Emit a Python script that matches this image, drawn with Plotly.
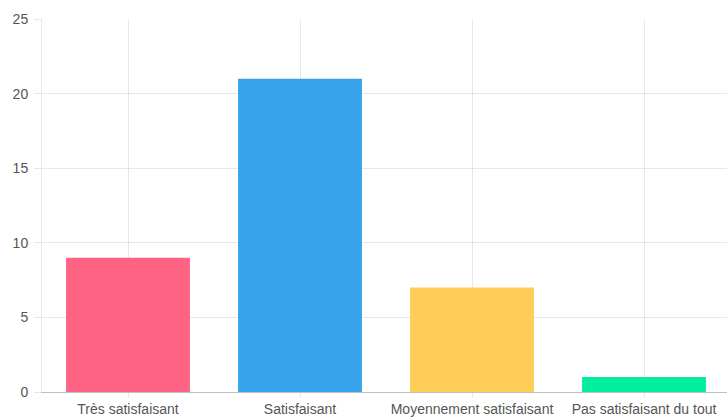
import plotly.graph_objects as go

categories = ["Très satisfaisant", "Satisfaisant", "Moyennement satisfaisant", "Pas satisfaisant du tout"]
values = [9, 21, 7, 1]
colors = ["rgb(255,99,132)", "rgb(54,162,235)", "rgb(255,205,86)", "rgb(0,238,160)"]
y_ticks = [0, 5, 10, 15, 20, 25]

fig = go.Figure(go.Bar(x=categories, y=values, marker=dict(color=colors, line=dict(width=0)), width=0.72))

grid = "rgba(0,0,0,0.09)"
fig.update_layout(
    width=727, height=418,
    margin=dict(l=42, r=0, t=19, b=26),
    paper_bgcolor="white", plot_bgcolor="white",
    font=dict(family="Liberation Sans, Arial, sans-serif", size=14, color="#666"),
    showlegend=False,
)
fig.update_xaxes(
    range=[-0.5, 3.5 - 3/172], showgrid=True, gridcolor=grid, gridwidth=1,
    ticks="outside", ticklen=4, tickcolor=grid,
    showline=True, linecolor="rgba(0,0,0,0.25)", linewidth=1,
    tickfont=dict(size=14, color="#555"), automargin=False,
)
fig.update_yaxes(
    range=[0, 25], tickvals=y_ticks, showgrid=True, gridcolor=grid, gridwidth=1,
    ticks="outside", ticklen=7, tickcolor=grid,
    showline=True, linecolor=grid, zeroline=False,
    tickfont=dict(size=14, color="#555"), ticklabelstandoff=3, automargin=False,
)
fig.write_html(
    "out.html",
    config={"displayModeBar": False},
    post_script="document.body.style.margin='0px';document.body.style.overflow='hidden';",
)
